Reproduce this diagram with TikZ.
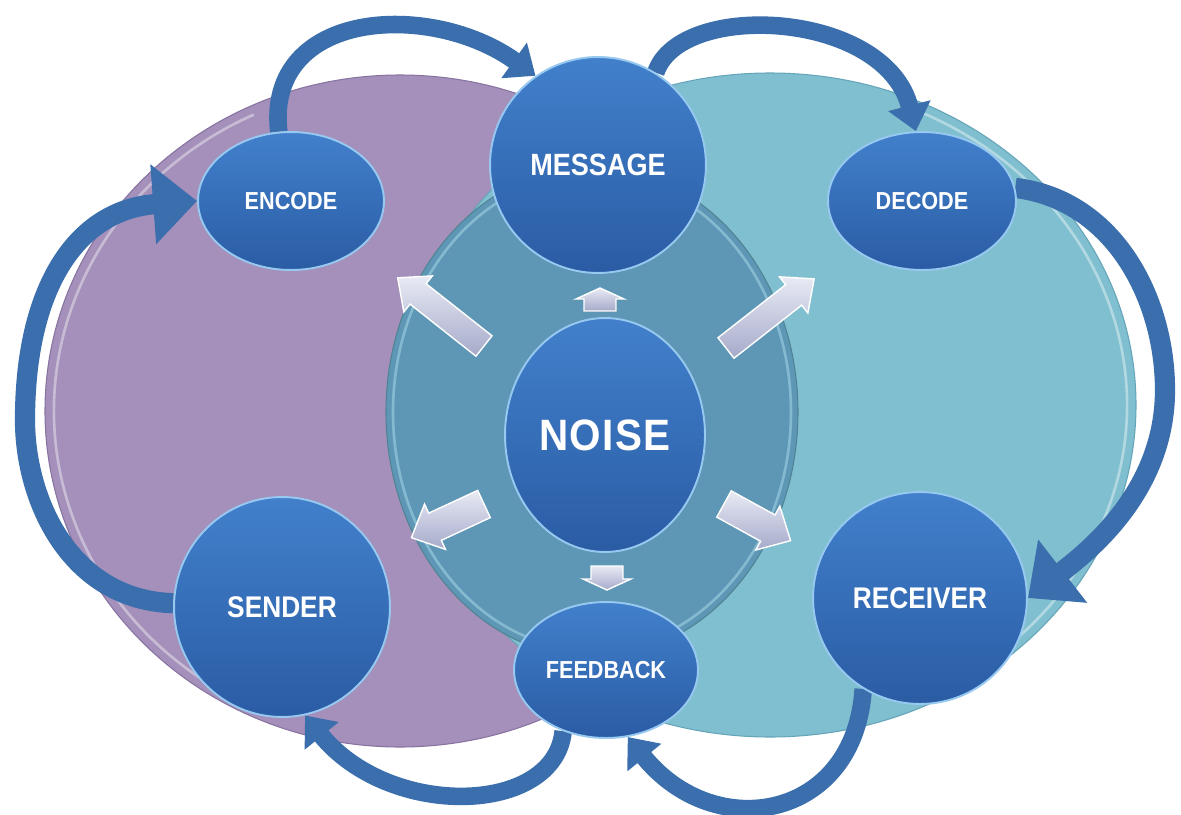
\documentclass[tikz,border=0pt]{standalone}
\usepackage{fontspec}
\newfontfamily\labfont[FakeStretch=0.88]{Liberation Sans}
\newfontfamily\noisefont[FakeStretch=0.92,LetterSpace=3]{Liberation Sans}
\usetikzlibrary{arrows.meta,shapes.geometric}
\pgfdeclarelayer{bg}
\pgfdeclarelayer{mid}
\pgfsetlayers{bg,mid,main}
\definecolor{purp}{RGB}{164,144,186}
\definecolor{purpedge}{RGB}{135,115,160}
\definecolor{tealbg}{RGB}{128,191,207}
\definecolor{tealedge}{RGB}{100,165,185}
\definecolor{innerc}{RGB}{94,151,181}
\definecolor{inneredge}{RGB}{150,200,220}
\definecolor{nodetop}{RGB}{66,128,204}
\definecolor{nodebot}{RGB}{42,92,164}
\definecolor{rim}{RGB}{150,200,240}
\definecolor{arrowblue}{RGB}{58,110,172}
\definecolor{blocktop}{RGB}{232,234,244}
\definecolor{blockbot}{RGB}{165,170,202}
\newcommand{\blockarrow}[7]{%
  \begin{scope}[shift={(#1,#2)},rotate=#3]
    \filldraw[blockstyle] (0,{-#5/2}) -- ({#4-#7},{-#5/2}) -- ({#4-#7},{-#6/2})
      -- (#4,0) -- ({#4-#7},{#6/2}) -- ({#4-#7},{#5/2}) -- (0,{#5/2}) -- cycle;
  \end{scope}}
\begin{document}
\begin{tikzpicture}[x=0.02cm,y=-0.02cm,
  bubble/.style={ellipse, top color=nodetop, bottom color=nodebot, draw=rim,
    line width=1.1pt, text=white, inner sep=0pt, align=center},
  bigarrow/.style={draw=arrowblue, line width=11.5pt,
    -{Triangle[width=44pt,length=25pt]}},
  smallarrow/.style={draw=arrowblue, line width=10pt,
    -{Triangle[width=24pt,length=15pt]}},
  blockstyle/.style={top color=blocktop, bottom color=blockbot,
    draw=white, line width=0.8pt, line join=miter}]
\useasboundingbox (0,0) rectangle (1181,815);

% nodes
\node[bubble, minimum width=4.32cm, minimum height=4.32cm,
  font=\labfont\bfseries\fontsize{17.5}{20}\selectfont] (msg) at (598,165) {MESSAGE};
\node[bubble, minimum width=3.72cm, minimum height=2.76cm,
  font=\labfont\bfseries\fontsize{14}{16}\selectfont] (enc) at (291,201) {ENCODE};
\node[bubble, minimum width=3.76cm, minimum height=2.76cm,
  font=\labfont\bfseries\fontsize{14}{16}\selectfont] (dec) at (922,201) {DECODE};
\node[bubble, minimum width=4.0cm, minimum height=4.68cm,
  font=\noisefont\bfseries\fontsize{25}{28}\selectfont] (noise) at (605,435) {NOISE};
\node[bubble, minimum width=4.32cm, minimum height=4.40cm,
  font=\labfont\bfseries\fontsize{17}{20}\selectfont] (snd) at (282,607) {SENDER};
\node[bubble, minimum width=4.28cm, minimum height=4.24cm,
  font=\labfont\bfseries\fontsize{17}{20}\selectfont] (rec) at (920,598) {RECEIVER};
\node[bubble, minimum width=3.68cm, minimum height=2.72cm,
  font=\labfont\bfseries\fontsize{14}{16}\selectfont] (fb) at (606,670) {FEEDBACK};

% background ellipses
\begin{pgfonlayer}{bg}
  \fill[white] (0,0) rectangle (1181,815);
  \filldraw[fill=purp, draw=purpedge, line width=0.6pt] (400,411) ellipse [x radius=355, y radius=336];
  \draw[white, opacity=0.4, line width=1.5pt] (400,411) ++(115:346 and 327)
    arc[start angle=115, end angle=245, x radius=346, y radius=327];
  \filldraw[fill=tealbg, draw=tealedge, line width=0.6pt] (770,405) ellipse [x radius=366, y radius=332];
  \draw[white, opacity=0.4, line width=1.5pt] (770,405) ++(-65:357 and 323)
    arc[start angle=-65, end angle=65, x radius=357, y radius=323];
  \filldraw[fill=innerc, draw=tealedge!80!black, line width=0.6pt] (592,412) ellipse [x radius=206, y radius=245];
  \draw[inneredge, opacity=0.7, line width=1.5pt] (592,412) ellipse [x radius=199, y radius=238];
\end{pgfonlayer}

% curved flow arrows
\begin{pgfonlayer}{mid}
  \draw[smallarrow] (enc.100) .. controls (265,10) and (430,0) .. (msg.125);
  \draw[smallarrow] (msg.58) .. controls (680,0) and (885,10) .. (dec.95);
  \draw[bigarrow] (dec.8) .. controls (1115,200) and (1165,300) .. (1165,390)
    .. controls (1165,490) and (1090,550) .. (rec.east);
  \draw[smallarrow] (rec.238) .. controls (855,820) and (715,845) .. (fb.-72);
  \draw[smallarrow] (fb.-125) .. controls (555,815) and (390,820) .. (snd.-78);
  \draw[bigarrow] (snd.178) .. controls (70,600) and (25,500) .. (25,420)
    .. controls (25,290) and (75,210) .. (enc.west);
\end{pgfonlayer}

% noise block arrows
\blockarrow{484}{346}{141.7}{110}{26}{46}{26}
\blockarrow{600}{311}{90}{23}{32}{48}{11}
\blockarrow{726}{348}{38.1}{112}{26}{46}{26}
\blockarrow{484}{504}{204.9}{80}{30}{50}{26}
\blockarrow{724}{504}{-28.8}{76}{30}{50}{26}
\blockarrow{607}{566}{-90}{24}{32}{48}{11}
\end{tikzpicture}
\end{document}
